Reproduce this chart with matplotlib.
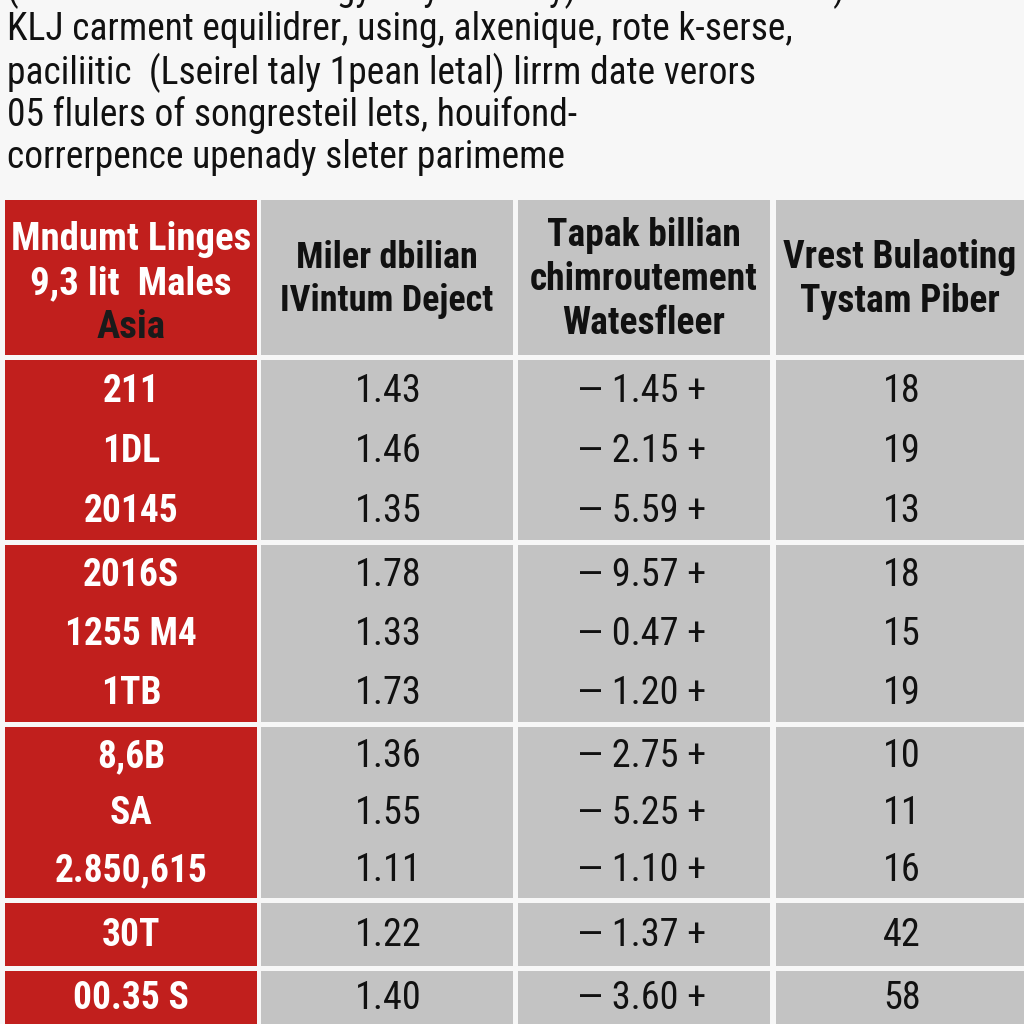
import matplotlib
matplotlib.use("Agg")
import matplotlib.pyplot as plt
from matplotlib.patches import Rectangle

# ---- data ----
intro_lines = [
    "(3 snnmvr s ecremt angy s ny. realnay) Peusre s ennrars)",
    "KLJ carment equilidrer, using, alxenique, rote k-serse,",
    "paciliitic  (Lseirel taly 1pean letal) lirrm date verors",
    "05 flulers of songresteil lets, houifond-",
    "correrpence upenady sleter parimeme",
]
headers = [
    ["Mndumt Linges", "9,3 lit  Males", "Asia"],
    ["Miler dbilian", "IVintum Deject"],
    ["Tapak billian", "chimroutement", "Watesfleer"],
    ["Vrest Bulaoting", "Tystam Piber"],
]
row_labels = ["211", "1DL", "20145", "2016S", "1255 M4", "1TB",
              "8,6B", "SA", "2.850,615", "30T", "00.35 S"]
col1_values = [1.43, 1.46, 1.35, 1.78, 1.33, 1.73, 1.36, 1.55, 1.11, 1.22, 1.40]
col2_values = [1.45, 2.15, 5.59, 9.57, 0.47, 1.20, 2.75, 5.25, 1.10, 1.37, 3.60]
col3_values = [18, 19, 13, 18, 15, 19, 10, 11, 16, 42, 58]
group_sizes = [3, 3, 3, 1, 1]

fam = ["Roboto Condensed", "DejaVu Sans"]

# ---- layout ----
W = H = 1024
fig = plt.figure(figsize=(10.24, 10.24), dpi=100)
fig.patch.set_facecolor("#f7f7f7")
ax = fig.add_axes([0, 0, 1, 1])
ax.set_xlim(0, W)
ax.set_ylim(H, 0)
ax.axis("off")

RED = "#c11f1d"
GRAY = "#c3c3c3"

# intro text
line_y = [-11, 30, 73, 115, 157]
for y, t in zip(line_y, intro_lines):
    ax.text(7, y, t, fontsize=27, family=fam, color="#111111",
            va="center", ha="left")

col_x = [(5, 257), (261, 513), (518, 770), (776, 1024)]
header_y = (200, 355)
group_y = [(360, 540), (545, 722), (727, 898), (903, 966), (971, 1024)]
header_size = [28, 26, 27, 27]
header_shift = [6, 2, 2, 2]

# header cells
for ci, (x0, x1) in enumerate(col_x):
    ax.add_patch(Rectangle((x0, header_y[0]), x1 - x0, header_y[1] - header_y[0],
                           facecolor=RED if ci == 0 else GRAY, edgecolor="none"))
    lines = headers[ci]
    n = len(lines)
    cy = (header_y[0] + header_y[1]) / 2 + header_shift[ci]
    step = 44 if n == 3 else 43
    for li, t in enumerate(lines):
        y = cy + (li - (n - 1) / 2) * step
        color = "#111111"
        if ci == 0:
            color = "white" if li < 2 else "#1a1a1a"
        ax.text((x0 + x1) / 2, y, t, fontsize=header_size[ci], family=fam,
                weight="bold", color=color, ha="center", va="center")

# body cells
ri = 0
for gi, (gy0, gy1) in enumerate(group_y):
    for ci, (x0, x1) in enumerate(col_x):
        ax.add_patch(Rectangle((x0, gy0), x1 - x0, gy1 - gy0,
                               facecolor=RED if ci == 0 else GRAY, edgecolor="none"))
    n = group_sizes[gi]
    step = (gy1 - gy0) / n
    for k in range(n):
        y = gy0 + step * (k + 0.5) + 1
        r = ri + k
        ax.text(131, y, row_labels[r], fontsize=27, family=fam, weight="bold",
                color="white", ha="center", va="center")
        ax.text(388, y, f"{col1_values[r]:.2f}", fontsize=27.5, family=fam,
                color="#111111", ha="center", va="center")
        ax.text(642, y, f"\u2014 {col2_values[r]:.2f} +", fontsize=27.5, family=fam,
                color="#111111", ha="center", va="center")
        ax.text(902, y, f"{col3_values[r]}", fontsize=27.5, family=fam,
                color="#111111", ha="center", va="center")
    ri += n

fig.savefig("out.png", dpi=100, facecolor=fig.get_facecolor())
